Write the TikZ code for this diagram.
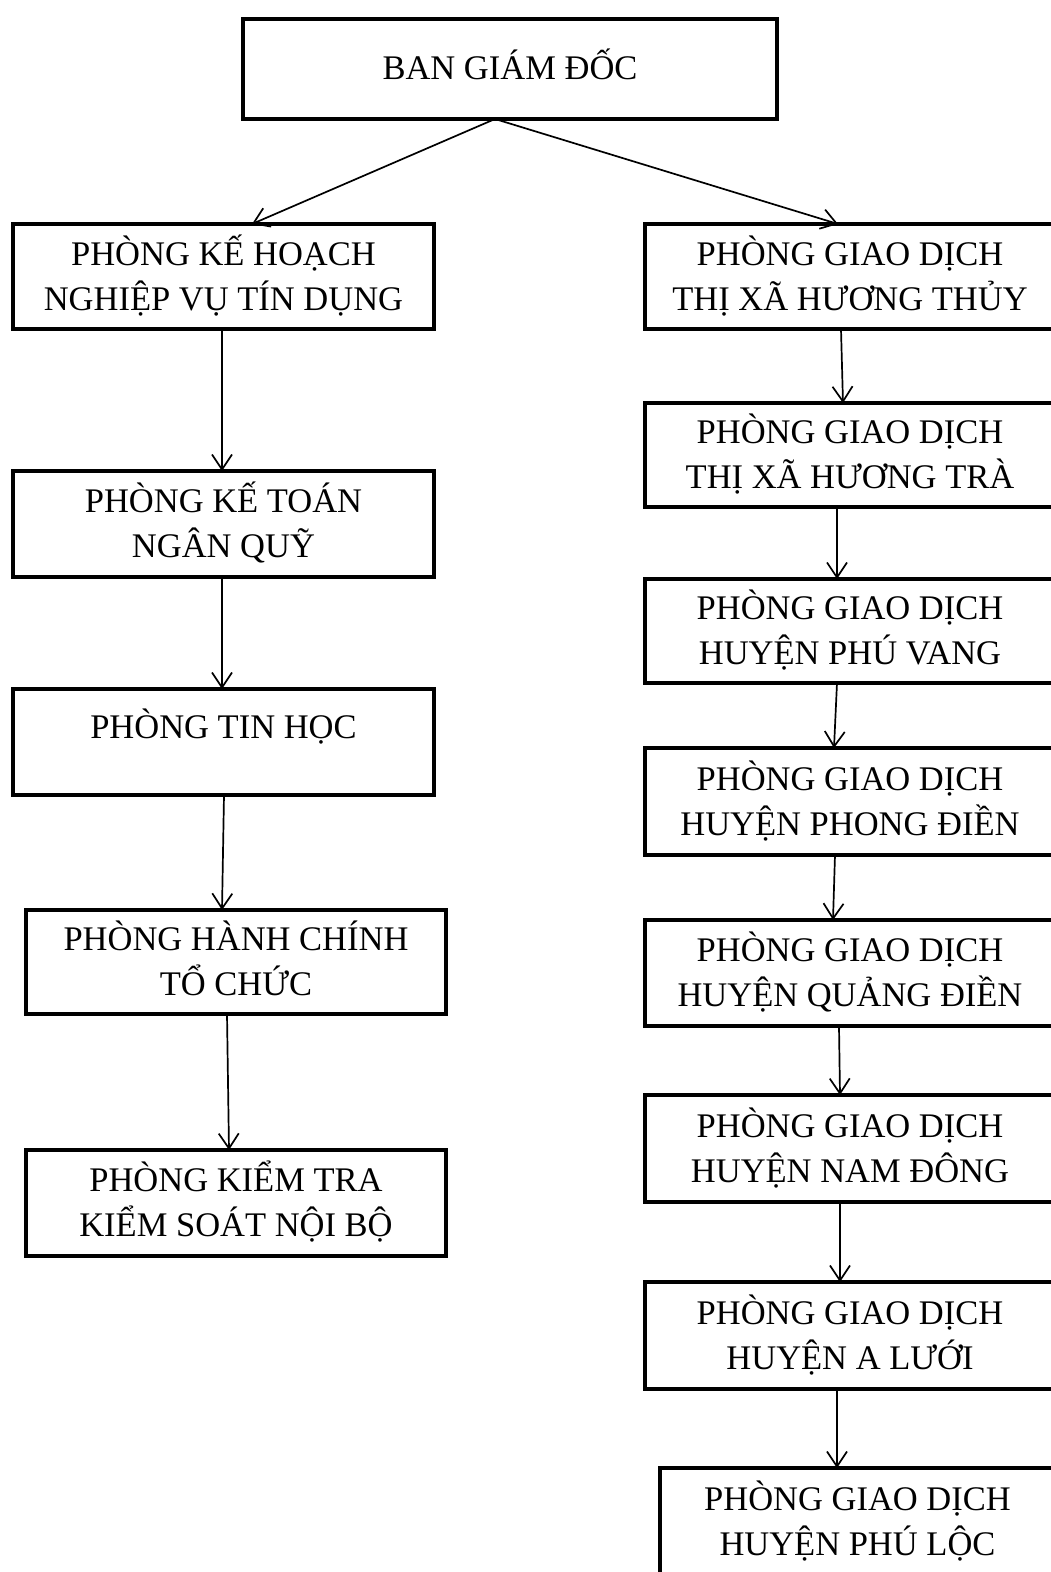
\documentclass[tikz,border=0pt]{standalone}
\usepackage{fontspec}
\setmainfont{Liberation Serif}
\usetikzlibrary{arrows.meta}
\newcommand\twoLs[4]{\raisebox{#1}[0pt][0pt]{\makebox[0pt]{#3}}\raisebox{#2}[0pt][0pt]{\makebox[0pt]{#4}}}
\newcommand\twoL[2]{\twoLs{11.5pt}{-33.5pt}{#1}{#2}}
\newcommand\oneL[2]{\raisebox{#1}[0pt][0pt]{\makebox[0pt]{#2}}}
\tikzset{
  orgbox/.style={draw, line width=4.5pt, rectangle, inner sep=0pt, outer sep=0pt,
    font=\fontsize{34.5}{41}\selectfont},
  conn/.style={line width=1.7pt, -{Straight Barb[length=15pt,width=20pt,line width=1.7pt]}}
}
\begin{document}
\begin{tikzpicture}[x=1pt,y=-1pt]
\useasboundingbox (0,0) rectangle (1051,1572);
\clip (0,0) rectangle (1051,1572);
\fill[white] (0,0) rectangle (1051,1572);
% top
\node[orgbox, minimum width=534pt, minimum height=100pt] (top) at (510,69) {\oneL{-10pt}{BAN GIÁM ĐỐC}};
% left column
\node[orgbox, minimum width=421pt, minimum height=105pt] (l1) at (223.5,276.5) {\twoL{PHÒNG KẾ HOẠCH}{NGHIỆP VỤ TÍN DỤNG}};
\node[orgbox, minimum width=421pt, minimum height=106pt] (l2) at (223.5,524) {\twoL{PHÒNG KẾ TOÁN}{NGÂN QUỸ}};
\node[orgbox, minimum width=421pt, minimum height=106pt] (l3) at (223.5,742) {\oneL{4pt}{PHÒNG TIN HỌC}};
\node[orgbox, minimum width=420pt, minimum height=104pt] (l4) at (236,962) {\twoL{PHÒNG HÀNH CHÍNH}{TỔ CHỨC}};
\node[orgbox, minimum width=420pt, minimum height=106pt] (l5) at (236,1203) {\twoL{PHÒNG KIỂM TRA}{KIỂM SOÁT NỘI BỘ}};
% right column
\node[orgbox, minimum width=410pt, minimum height=105pt] (r1) at (850,276.5) {\twoL{PHÒNG GIAO DỊCH}{THỊ XÃ HƯƠNG THỦY}};
\node[orgbox, minimum width=410pt, minimum height=104pt] (r2) at (850,455) {\twoL{PHÒNG GIAO DỊCH}{THỊ XÃ HƯƠNG TRÀ}};
\node[orgbox, minimum width=410pt, minimum height=104pt] (r3) at (850,631) {\twoL{PHÒNG GIAO DỊCH}{HUYỆN PHÚ VANG}};
\node[orgbox, minimum width=410pt, minimum height=107pt] (r4) at (850,801.5) {\twoL{PHÒNG GIAO DỊCH}{HUYỆN PHONG ĐIỀN}};
\node[orgbox, minimum width=410pt, minimum height=106pt] (r5) at (850,973) {\twoL{PHÒNG GIAO DỊCH}{HUYỆN QUẢNG ĐIỀN}};
\node[orgbox, minimum width=410pt, minimum height=107pt] (r6) at (850,1148.5) {\twoL{PHÒNG GIAO DỊCH}{HUYỆN NAM ĐÔNG}};
\node[orgbox, minimum width=410pt, minimum height=107pt] (r7) at (850,1335.5) {\twoL{PHÒNG GIAO DỊCH}{HUYỆN A LƯỚI}};
\node[orgbox, minimum width=395pt, minimum height=130pt] (r8) at (857.5,1533) {\twoLs{23pt}{-22pt}{PHÒNG GIAO DỊCH}{HUYỆN PHÚ LỘC}};
% connectors
\draw[conn] ([xshift=-15pt]top.south) -- ([xshift=28.5pt]l1.north);
\draw[conn] ([xshift=-15pt]top.south) -- ([xshift=-12pt]r1.north);
\draw[conn] ([xshift=-1.5pt]l1.south) -- ([xshift=-1.5pt]l2.north);
\draw[conn] ([xshift=-1.5pt]l2.south) -- ([xshift=-1.5pt]l3.north);
\draw[conn] ([xshift=0.5pt]l3.south) -- ([xshift=-14pt]l4.north);
\draw[conn] ([xshift=-9pt]l4.south) -- ([xshift=-7pt]l5.north);
\draw[conn] ([xshift=-9pt]r1.south) -- ([xshift=-7pt]r2.north);
\draw[conn] ([xshift=-13pt]r2.south) -- ([xshift=-13pt]r3.north);
\draw[conn] ([xshift=-13pt]r3.south) -- ([xshift=-16pt]r4.north);
\draw[conn] ([xshift=-15pt]r4.south) -- ([xshift=-17pt]r5.north);
\draw[conn] ([xshift=-11pt]r5.south) -- ([xshift=-10pt]r6.north);
\draw[conn] ([xshift=-10pt]r6.south) -- ([xshift=-10pt]r7.north);
\draw[conn] ([xshift=-13pt]r7.south) -- ([xshift=-20.5pt]r8.north);
\end{tikzpicture}
\end{document}
